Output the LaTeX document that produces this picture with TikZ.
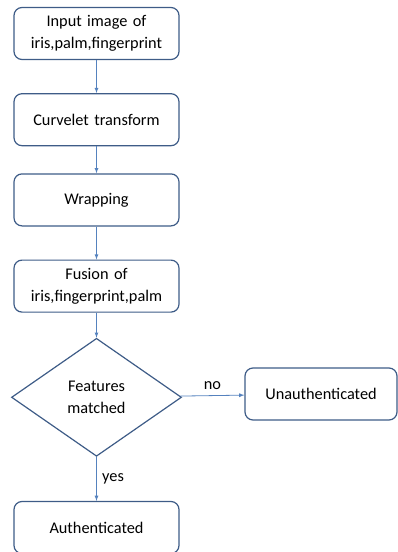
\documentclass[tikz,border=0pt]{standalone}
\usepackage{fontspec}
\setmainfont{Carlito}
\usepackage{tikz}
\usepackage{xcolor}
\usetikzlibrary{shapes.geometric,positioning}
\definecolor{boxline}{RGB}{62,92,135}
\definecolor{arrowline}{RGB}{85,130,190}
\tikzstyle{boxes} = [rectangle, rounded corners=8pt, minimum width=165pt, minimum height=52pt, text centered, text
width=162pt, draw=boxline, line width=1.2pt, font=\fontsize{16.3}{22}\selectfont, inner sep=0pt]
\tikzstyle{decide} = [diamond, minimum width=170pt, minimum height=118pt, text centered, draw=boxline, line width=1.2pt, font=\fontsize{16.3}{22}\selectfont, inner sep=0pt, align=center]
\tikzstyle{arrow} = [draw=arrowline, line width=0.8pt, -latex]

\begin{document}
\begin{tikzpicture}
            \useasboundingbox (0,0) rectangle (398pt,-552pt);

            \node(input) [boxes] at (96.5pt,-33.5pt) {Input image of\\iris,palm,fingerprint};
            \node(curvelet) [boxes, below=33pt of input] {Curvelet transform};
            \node(wrapping) [boxes, below=27pt of curvelet] {Wrapping};
            \node(fusion) [boxes, below=33pt of wrapping] {Fusion of\\iris,fingerprint,palm};
            \node(match) [decide, below=25pt of fusion] {Features\\matched};
            \node(auth) [boxes, below=44pt of match] {Authenticated};
            \node(unauth) [boxes, minimum width=152pt, text width=150pt] at (321pt,-394pt) {Unauthenticated};

            % Draw Lines
            \draw[arrow] (input) -- (curvelet);
            \draw[arrow] (curvelet) -- (wrapping);
            \draw[arrow] (wrapping) -- (fusion);
            \draw[arrow] (fusion) -- (match);
            \draw[arrow] (match) -- node[right, font=\fontsize{16.3}{22}\selectfont, xshift=2pt] {yes} (auth);
            \draw[arrow] (match) -- node[above, font=\fontsize{16.3}{22}\selectfont, yshift=2pt] {no} (unauth);
\end{tikzpicture}
\end{document}
